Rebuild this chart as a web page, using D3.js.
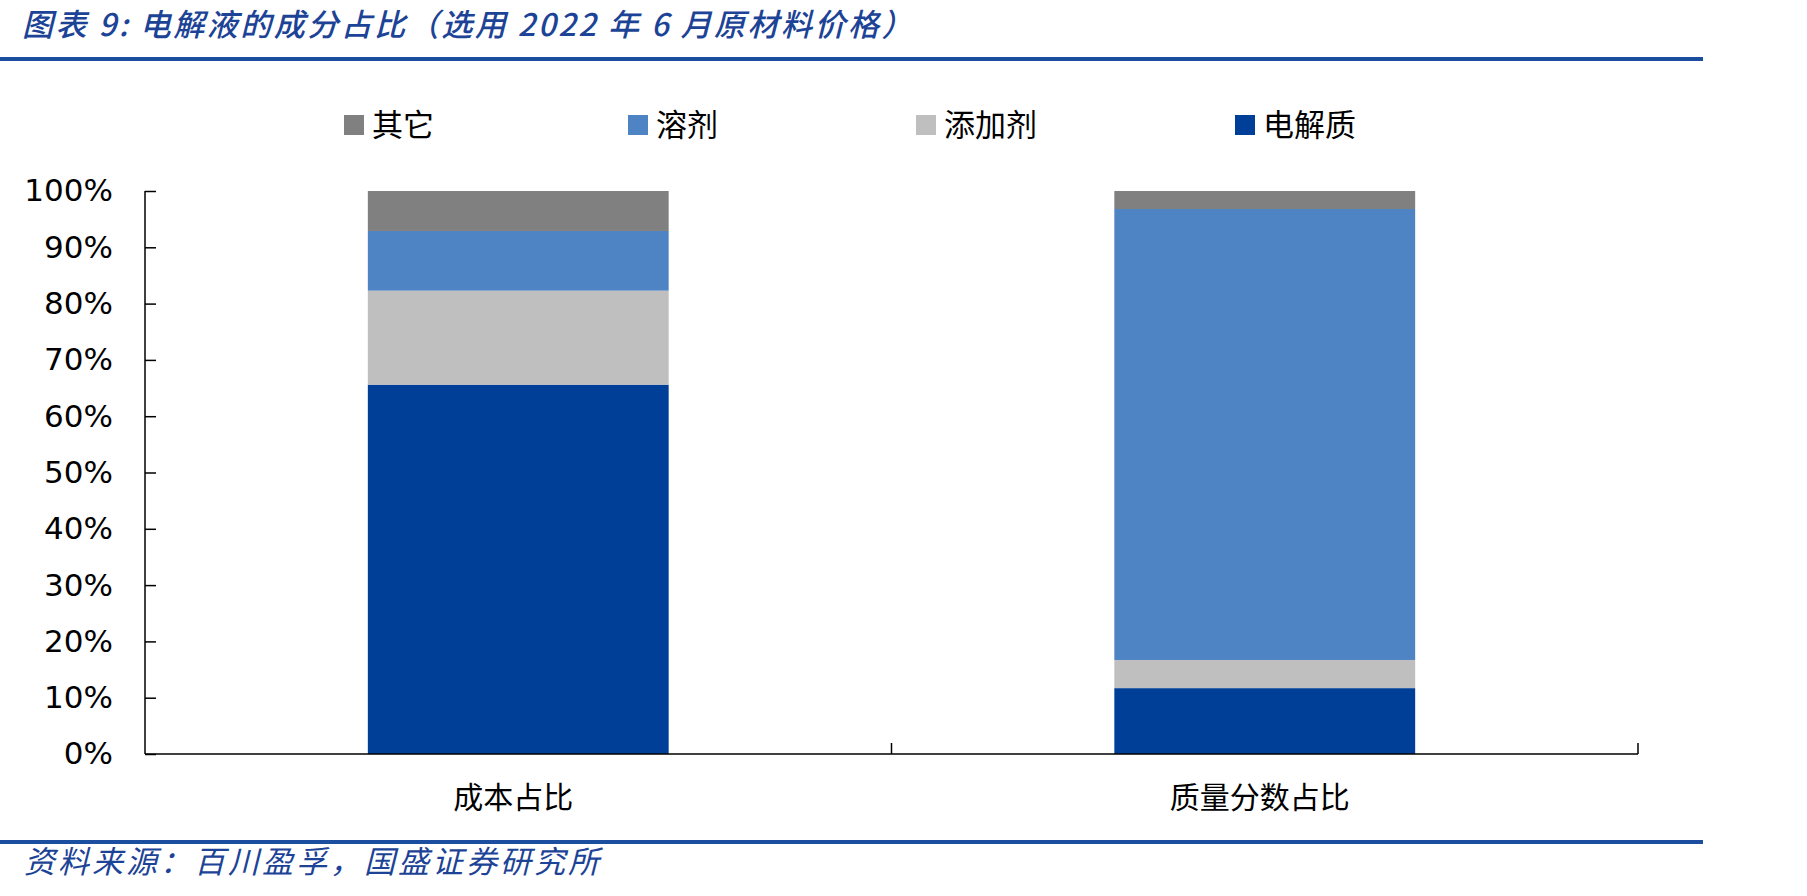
<!DOCTYPE html>
<html lang="zh">
<meta charset="utf-8">
<style>
body { margin: 0; background: #fff; }
svg { display: block; }
.title, .source {
    fill: #1c4396;
    font-family: "Noto Sans CJK SC", sans-serif;
    font-style: italic;
}
.legend text, .xlabel {
    font-family: "Noto Sans CJK SC", sans-serif;
    fill: #000;
}
.yaxis text {
    font-family: "DejaVu Sans", Verdana, sans-serif;
    font-size: 31px;
    fill: #000;
}
.yaxis path, .yaxis line, .xaxis line { stroke: #000; stroke-width: 1.5px; }
</style>
<svg width="1807" height="896"></svg>
<script src="https://d3js.org/d3.v7.min.js"></script>
<script>
// 数据
var categories = ["成本占比", "质量分数占比"];
var seriesNames = ["电解质", "添加剂", "溶剂", "其它"];   // 自下而上
var electrolyte = [65.6, 11.7];
var additive = [16.7, 5.0];
var solvent = [10.6, 80.1];
var other = [7.1, 3.2];
var legendOrder = ["其它", "溶剂", "添加剂", "电解质"];
var yTicks = [0, 10, 20, 30, 40, 50, 60, 70, 80, 90, 100];

var colors = {"电解质": "#003f98", "添加剂": "#bfbfbf", "溶剂": "#4f84c4", "其它": "#808080"};

var rows = categories.map(function(c, i) {
    return {cat: c, "电解质": electrolyte[i], "添加剂": additive[i], "溶剂": solvent[i], "其它": other[i]};
});

var svg = d3.select("svg");

var plotLeft = 145, plotRight = 1638, plotTop = 191, plotBottom = 754;

var yScale = d3.scaleLinear().domain([0, 100]).range([plotBottom, plotTop]);
var xScale = d3.scaleBand()
    .domain(categories)
    .range([plotLeft, plotRight])
    .paddingInner(0.597)
    .paddingOuter(0.2985);

// 标题
svg.append("text")
    .attr("class", "title")
    .attr("x", 22).attr("y", 36)
    .style("font-size", "31px")
    .style("font-weight", "500")
    .style("letter-spacing", "2.5px")
    .text("图表 9:  电解液的成分占比（选用 2022 年 6 月原材料价格）");

svg.append("rect").attr("x", 0).attr("y", 57).attr("width", 1703).attr("height", 4).attr("fill", "#1c4ea0");
svg.append("rect").attr("x", 0).attr("y", 840).attr("width", 1703).attr("height", 4).attr("fill", "#1c4ea0");

svg.append("text")
    .attr("class", "source")
    .attr("x", 24).attr("y", 873)
    .style("font-size", "31px")
    .style("letter-spacing", "3px")
    .text("资料来源：百川盈孚，国盛证券研究所");

// 堆叠柱
var stack = d3.stack().keys(seriesNames)(rows);

svg.append("g").selectAll("g")
    .data(stack)
    .enter().append("g")
    .attr("fill", function(d) { return colors[d.key]; })
    .selectAll("rect")
    .data(function(d) { return d; })
    .enter().append("rect")
    .attr("x", function(d) { return xScale(d.data.cat); })
    .attr("width", xScale.bandwidth())
    .attr("y", function(d) { return yScale(d[1]); })
    .attr("height", function(d) { return yScale(d[0]) - yScale(d[1]); });

// y 轴
svg.append("g")
    .attr("class", "yaxis")
    .attr("transform", "translate(" + plotLeft + ",0)")
    .call(d3.axisLeft(yScale)
        .tickValues(yTicks)
        .tickSize(-11)
        .tickPadding(32)
        .tickFormat(function(d) { return d + "%"; }))
    .call(function(g) { g.select(".domain").attr("d", "M0," + plotTop + "V" + plotBottom); });

// x 轴
var xg = svg.append("g").attr("class", "xaxis");
xg.append("line")
    .attr("x1", plotLeft).attr("x2", plotRight)
    .attr("y1", plotBottom).attr("y2", plotBottom);
var step = xScale.step();
xg.selectAll(".bound")
    .data(categories)
    .enter().append("line")
    .attr("class", "bound")
    .attr("x1", function(d) { return xScale(d) + xScale.bandwidth() / 2 + step / 2; })
    .attr("x2", function(d) { return xScale(d) + xScale.bandwidth() / 2 + step / 2; })
    .attr("y1", plotBottom).attr("y2", plotBottom - 11);

svg.selectAll(".xlabel")
    .data(categories)
    .enter().append("text")
    .attr("class", "xlabel")
    .attr("x", function(d) { return xScale(d) + xScale.bandwidth() / 2 - 5; })
    .attr("y", 808)
    .attr("text-anchor", "middle")
    .style("font-size", "30px")
    .text(function(d) { return d; });

// 图例
var legendX = [344, 628, 916, 1235];
var lg = svg.append("g").attr("class", "legend");
var item = lg.selectAll("g")
    .data(legendOrder)
    .enter().append("g")
    .attr("transform", function(d, i) { return "translate(" + legendX[i] + ",115)"; });
item.append("rect")
    .attr("width", 20).attr("height", 20)
    .attr("fill", function(d) { return colors[d]; });
item.append("text")
    .attr("x", 28).attr("y", 21)
    .style("font-size", "31px")
    .text(function(d) { return d; });
</script>
</html>
